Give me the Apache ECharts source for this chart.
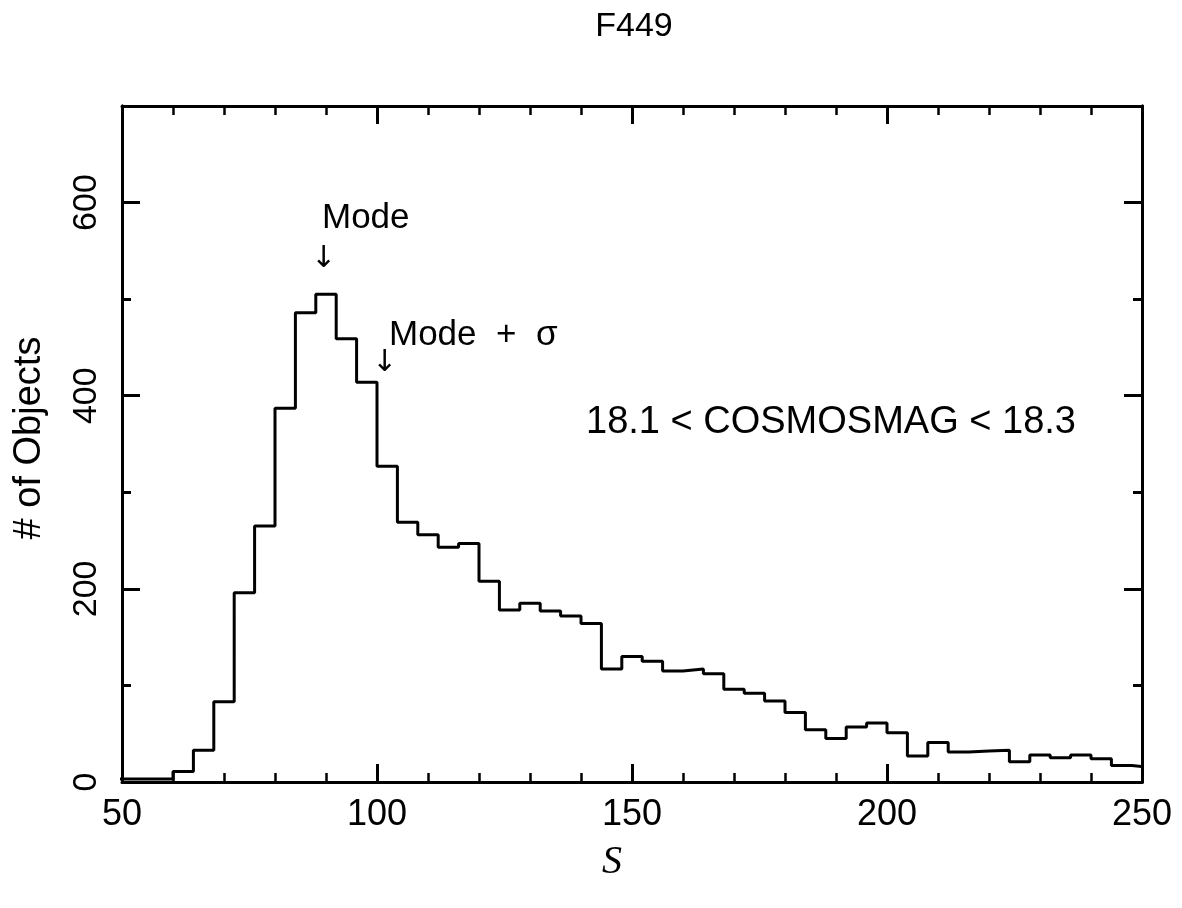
<!DOCTYPE html>
<html><head><meta charset="utf-8">
<script src="https://cdn.jsdelivr.net/npm/echarts@6/dist/echarts.min.js"></script>
<style>html,body{margin:0;padding:0;background:#fff}#c{width:1182px;height:908px}</style>
</head><body><div id="c"></div>
<script>
// Histogram bin edges (S) and counts (# of objects)
const binEdges = [48,52,56,60,64,68,72,76,80,84,88,92,96,100,104,108,112,116,120,124,128,132,136,140,144,148,152,156,160,164,168,172,176,180,184,188,192,196,200,204,208,212,216,220,224,228,232,236,240,244,248,252];
const counts = [3,3,3,11,33,83,196,265,387,486,505,459,414,327,269,256,243,247,208,178,185,177,172,164,117,130,125,115,117,112,96,92,84,72,54,45,57,61,51,27,41,31,32,33,21,28,25,28,24,17,15];
const xLabelValues = [50,100,150,200,250];
const yLabelValues = [0,200,400,600];
const titleText = 'F449';
const xName = 'S';
const yName = '# of Objects';
const rangeText = '18.1 < COSMOSMAG < 18.3';
const modeLabel = 'Mode';
const modeSigmaLabel = 'Mode  +  σ';
const modeArrowAt = [89.5, 526];
const modeSigmaArrowAt = [101.5, 418];

const FONT = "'Liberation Sans', Arial, Helvetica, sans-serif";
const chart = echarts.init(document.getElementById('c'), null, {renderer: 'canvas'});

const histData = counts.map((c, i) => [binEdges[i], c]);
histData.push([binEdges[binEdges.length - 1], counts[counts.length - 1]]);

const lineW = 3;
function xAx(pos, showLabel) {
  return {
    type: 'value', position: pos, min: 50, max: 250, interval: 50,
    axisLine: {show: true, onZero: false, lineStyle: {color: '#000', width: lineW}},
    axisTick: {show: true, inside: true, length: 18, lineStyle: {color: '#000', width: 3}},
    minorTick: {show: true, splitNumber: 5, length: 9, lineStyle: {color: '#000', width: 2.5}},
    splitLine: {show: false}, minorSplitLine: {show: false},
    axisLabel: {show: showLabel, color: '#000', fontFamily: FONT, fontSize: 36, margin: 15,
      formatter: v => xLabelValues.includes(v) ? String(v) : ''}
  };
}
function yAx(pos, interval, tickLen, showLabel) {
  return {
    type: 'value', position: pos, min: 0, max: 700, interval: interval,
    axisLine: {show: true, onZero: false, lineStyle: {color: '#000', width: lineW}},
    axisTick: {show: true, inside: true, length: tickLen, lineStyle: {color: '#000', width: 3}},
    splitLine: {show: false},
    axisLabel: {show: showLabel, color: '#000', fontFamily: FONT, fontSize: 34, margin: 18, rotate: 90,
      formatter: v => yLabelValues.includes(v) ? String(v) : ''}
  };
}

chart.setOption({
  animation: false,
  backgroundColor: '#fff',
  grid: {left: 122, right: 40, top: 106, bottom: 126, containLabel: false},
  xAxis: [xAx('bottom', true), xAx('top', false)],
  yAxis: [yAx('left', 100, 9, false), yAx('left', 200, 18, true), yAx('right', 100, 9, false), yAx('right', 200, 18, false)],
  series: [{
    type: 'line', step: 'end', data: histData, xAxisIndex: 0, yAxisIndex: 0,
    symbol: 'none', clip: true, silent: true,
    lineStyle: {color: '#000', width: 3}
  }]
});

const pM = chart.convertToPixel({xAxisIndex: 0, yAxisIndex: 0}, modeArrowAt);
const pS = chart.convertToPixel({xAxisIndex: 0, yAxisIndex: 0}, modeSigmaArrowAt);

chart.setOption({
  graphic: [
    {type: 'text', x: 634, y: 27, style: {text: titleText, align: 'center', verticalAlign: 'middle', font: "34px " + FONT, fill: '#000'}},
    {type: 'text', x: 612, y: 862, style: {text: xName, align: 'center', verticalAlign: 'middle', font: "italic 40px 'Liberation Serif', 'Times New Roman', serif", fill: '#000'}},
    {type: 'text', x: 30, y: 438, rotation: Math.PI / 2, style: {text: yName, align: 'center', verticalAlign: 'middle', font: "38px " + FONT, fill: '#000'}},
    {type: 'text', x: 322, y: 218, style: {text: modeLabel, align: 'left', verticalAlign: 'middle', font: "35px " + FONT, fill: '#000'}},
    {type: 'text', x: 389, y: 335, style: {text: modeSigmaLabel, align: 'left', verticalAlign: 'middle', font: "35px " + FONT, fill: '#000'}},
    {type: 'text', x: 586, y: 423, style: {text: rangeText, align: 'left', verticalAlign: 'middle', font: "38px " + FONT, fill: '#000'}},
    {type: 'text', x: pM[0], y: pM[1], style: {text: '↓', align: 'center', verticalAlign: 'bottom', font: "30px 'DejaVu Sans', sans-serif", fill: '#000'}},
    {type: 'text', x: pS[0], y: pS[1], style: {text: '↓', align: 'center', verticalAlign: 'bottom', font: "30px 'DejaVu Sans', sans-serif", fill: '#000'}}
  ]
});
</script>
</body></html>
